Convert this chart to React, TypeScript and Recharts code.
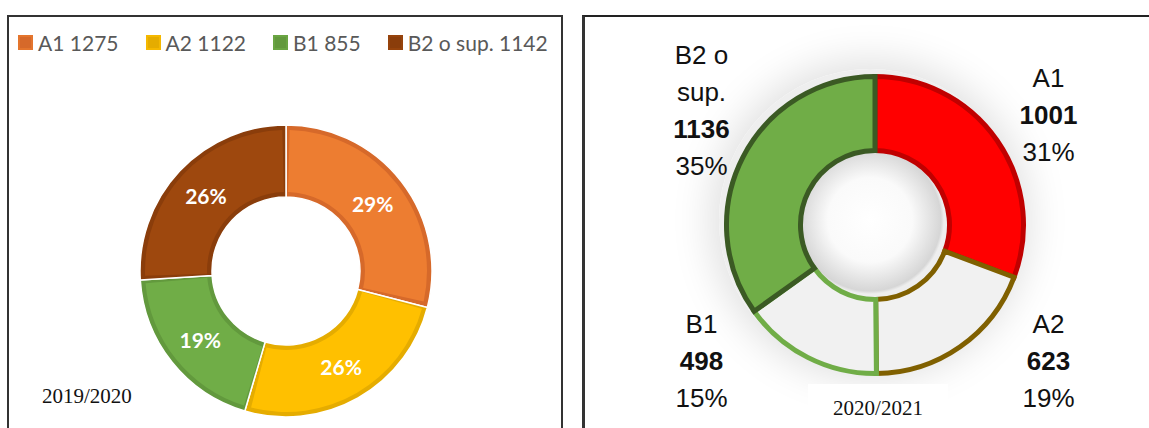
import { PieChart, Pie, Cell } from 'recharts';

// Categories and counts per school year
const categories = ['A1', 'A2', 'B1', 'B2 o sup.'];
const values2019 = [1275, 1122, 855, 1142];
const values2020 = [1001, 623, 498, 1136];

// Excel-ish palette for the left donut (fill + darker bevel)
const fills2019 = ['#ED7D31', '#FFC000', '#70AD47', '#9E480E'];
const edges2019 = ['#D6692A', '#E5AC00', '#62993D', '#8A3D0B'];

// Right donut: fill + outline
const fills2020 = ['#FF0000', '#F1F1F1', '#F1F1F1', '#70AD47'];
const strokes2020 = ['#C00000', '#806000', '#70AD47', '#3B5A24'];

const RAD = Math.PI / 180;

const data2019 = categories.map((name, i) => ({ name, value: values2019[i] }));
const data2020 = categories.map((name, i) => ({ name, value: values2020[i] }));

const renderLeftLabel = (props: any) => {
  const { cx, cy, midAngle, innerRadius, outerRadius, percent } = props;
  const r = (innerRadius + outerRadius) / 2;
  const x = cx + r * Math.cos(-midAngle * RAD);
  const y = cy + r * Math.sin(-midAngle * RAD);
  return (
    <text
      x={x}
      y={y}
      fill="#fff"
      textAnchor="middle"
      dominantBaseline="central"
      fontFamily="Lato, 'Open Sans', sans-serif"
      fontWeight={700}
      fontSize={21}
    >
      {`${(percent * 100).toFixed(0)}%`}
    </text>
  );
};

// Excel wraps "B2 o sup." onto two lines
const wrapName = (name: string) => {
  const words = name.split(' ');
  if (words.length > 2) return [words.slice(0, 2).join(' '), words.slice(2).join(' ')];
  return [name];
};

const renderRightLabel = (props: any) => {
  const { cx, cy, midAngle, outerRadius, percent, name, value } = props;
  const cos = Math.cos(-midAngle * RAD);
  const sin = Math.sin(-midAngle * RAD);
  const x = cx + Math.sign(cos) * (outerRadius + 25);
  const lines = [
    ...wrapName(name).map((t) => ({ t, bold: false })),
    { t: String(value), bold: true },
    { t: `${(percent * 100).toFixed(0)}%`, bold: false },
  ];
  const step = 37;
  // block centre sits above/below the ring depending on the slice's side
  const mid =
    sin < 0
      ? cy - 0.74 * outerRadius - (lines.length - 3) * 5
      : cy + 0.915 * outerRadius;
  const y0 = mid - ((lines.length - 1) * step) / 2;
  return (
    <text
      x={x}
      y={y0}
      fill="#111"
      textAnchor="middle"
      dominantBaseline="central"
      fontFamily="'Liberation Sans', Arial, sans-serif"
      fontSize={26}
    >
      {lines.map((l, i) => (
        <tspan key={i} x={x} y={y0 + i * step} fontWeight={l.bold ? 700 : 400}>
          {l.t}
        </tspan>
      ))}
    </text>
  );
};

export default function App() {
  return (
    <div
      style={{
        position: 'absolute',
        left: 0,
        top: 0,
        width: 1149,
        height: 428,
        background: '#fff',
        overflow: 'hidden',
      }}
    >
      {/* Left panel 2019/2020 */}
      <div
        style={{
          position: 'absolute',
          left: 7,
          top: 15,
          width: 556,
          height: 440,
          border: '2px solid #333',
          boxSizing: 'border-box',
        }}
      />
      <div
        style={{
          position: 'absolute',
          left: 18,
          top: 30,
          display: 'flex',
          alignItems: 'center',
          fontFamily: "Lato, 'Open Sans', sans-serif",
          fontSize: 21,
          color: '#595959',
          whiteSpace: 'nowrap',
        }}
      >
        {categories.map((c, i) => (
          <div key={c} style={{ display: 'flex', alignItems: 'center', marginRight: 27 }}>
            <span
              style={{
                display: 'inline-block',
                width: 15,
                height: 15,
                background: edges2019[i],
                boxShadow: `inset 0 0 0 2px ${fills2019[i]}99`,
                marginRight: 5,
              }}
            />
            <span>{`${c} ${values2019[i]}`}</span>
          </div>
        ))}
      </div>
      <div style={{ position: 'absolute', left: 0, top: 0 }}>
        <PieChart width={560} height={428}>
          <Pie
            data={data2019}
            dataKey="value"
            nameKey="name"
            cx={281}
            cy={266}
            innerRadius={74}
            outerRadius={146}
            startAngle={90}
            endAngle={-270}
            stroke="#fff"
            strokeWidth={1.5}
            isAnimationActive={false}
          >
            {data2019.map((d, i) => (
              <Cell key={d.name} fill={edges2019[i]} />
            ))}
          </Pie>
          <Pie
            data={data2019}
            dataKey="value"
            nameKey="name"
            cx={281}
            cy={266}
            innerRadius={79}
            outerRadius={141}
            startAngle={88.5}
            endAngle={-271.5}
            paddingAngle={3}
            stroke="none"
            label={renderLeftLabel}
            labelLine={false}
            isAnimationActive={false}
          >
            {data2019.map((d, i) => (
              <Cell key={d.name} fill={fills2019[i]} />
            ))}
          </Pie>
        </PieChart>
      </div>
      <div
        style={{
          position: 'absolute',
          left: 42,
          top: 386,
          fontFamily: "'Liberation Serif', 'Times New Roman', serif",
          fontSize: 21,
          lineHeight: '21px',
          color: '#111',
        }}
      >
        2019/2020
      </div>

      {/* Right panel 2020/2021 */}
      <div
        style={{
          position: 'absolute',
          left: 582,
          top: 15,
          width: 620,
          height: 440,
          borderLeft: '3px solid #333',
          borderTop: '2px solid #222',
          boxSizing: 'border-box',
        }}
      />
      <div
        style={{
          position: 'absolute',
          left: 870 - 151,
          top: 220 - 151,
          width: 302,
          height: 302,
          borderRadius: '50%',
          boxShadow: '0 0 40px 8px rgba(0,0,0,0.13)',
          background:
            'radial-gradient(circle closest-side, #ffffff 0%, #fafafa 28%, #d6d6d6 47%, #eeeeee 49%)',
        }}
      />
      <div style={{ position: 'absolute', left: 584, top: 17 }}>
        <PieChart width={565} height={411}>
          <Pie
            data={data2020}
            dataKey="value"
            nameKey="name"
            cx={286}
            cy={203}
            innerRadius={74.5}
            outerRadius={148.5}
            startAngle={90}
            endAngle={-270}
            strokeWidth={5}
            label={renderRightLabel}
            labelLine={false}
            isAnimationActive={false}
          >
            {data2020.map((d, i) => (
              <Cell key={d.name} fill={fills2020[i]} stroke={strokes2020[i]} />
            ))}
          </Pie>
        </PieChart>
      </div>
      <div
        style={{
          position: 'absolute',
          left: 808,
          top: 384,
          width: 140,
          height: 50,
          background: '#fff',
          textAlign: 'center',
          fontFamily: "'Liberation Serif', 'Times New Roman', serif",
          fontSize: 21,
          lineHeight: '48px',
          color: '#111',
        }}
      >
        2020/2021
      </div>
    </div>
  );
}
